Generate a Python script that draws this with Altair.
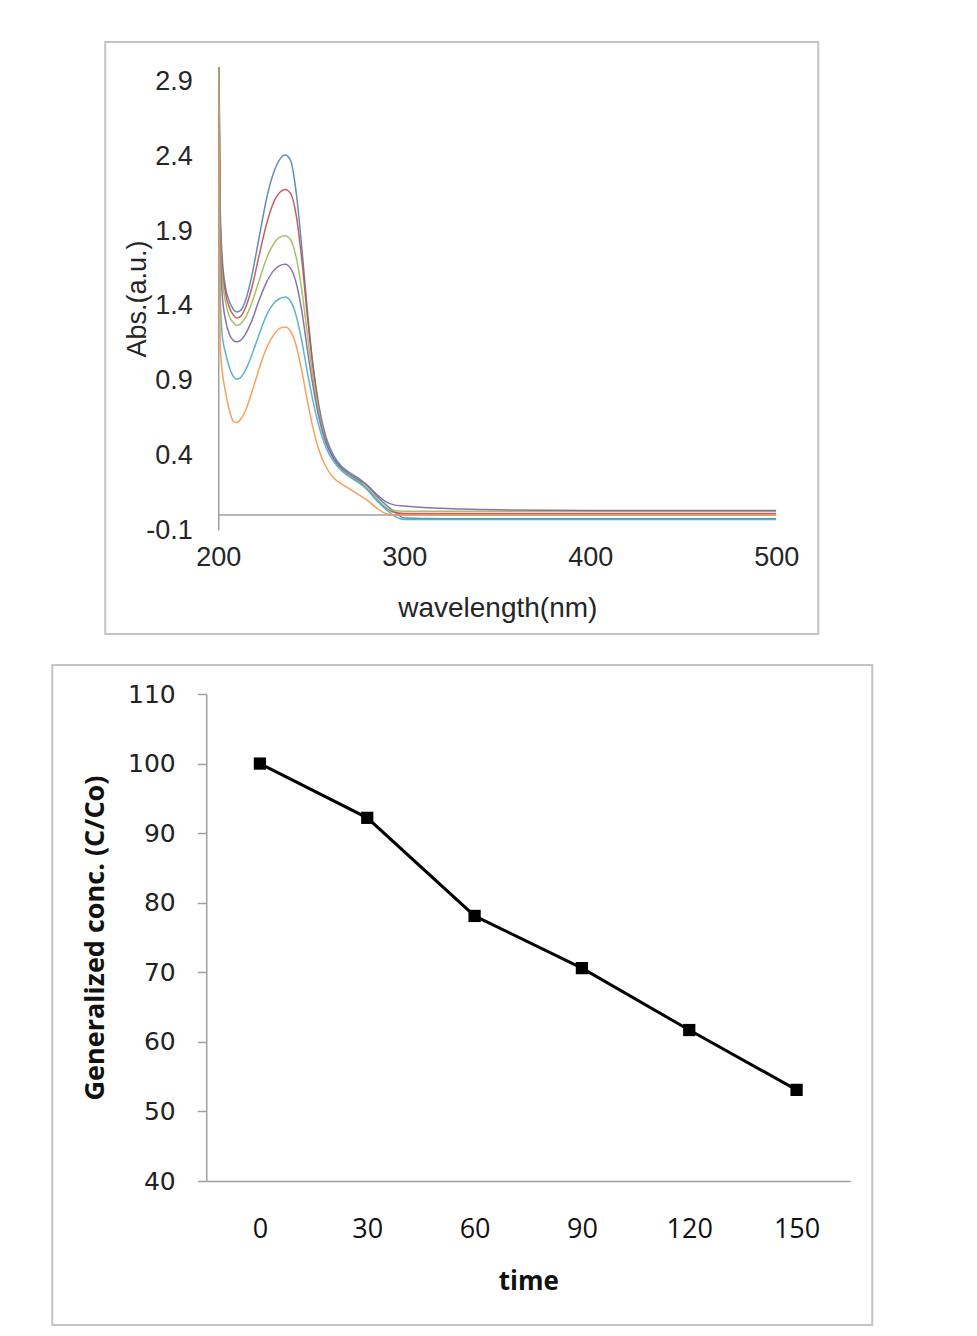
import altair as alt
import pandas as pd

# ---------------- data: UV-vis spectra ----------------
wavelength = [200, 201, 202, 204, 206, 208, 210, 212, 215, 218, 222, 226, 230, 233,
              236, 239, 242, 245, 248, 251, 254, 258, 262, 266, 270, 275, 280, 285,
              290, 294, 300, 320, 350, 400, 450, 500]

abs_s1 = [3.6, 2.1, 1.75, 1.52, 1.43, 1.38, 1.36, 1.37, 1.45, 1.60, 1.86, 2.12, 2.30, 2.38,
          2.41, 2.37, 2.15, 1.78, 1.36, 1.00, 0.74, 0.52, 0.40, 0.33, 0.29, 0.25, 0.20, 0.13,
          0.07, 0.03, -0.02, -0.025, -0.025, -0.025, -0.025, -0.025]
abs_s2 = [3.6, 2.0, 1.70, 1.48, 1.39, 1.34, 1.32, 1.33, 1.40, 1.52, 1.74, 1.95, 2.10, 2.16,
          2.18, 2.15, 2.00, 1.70, 1.32, 0.98, 0.72, 0.50, 0.38, 0.31, 0.27, 0.23, 0.18, 0.11,
          0.05, 0.02, 0.01, 0.01, 0.01, 0.01, 0.01, 0.01]
abs_s3 = [3.6, 1.95, 1.62, 1.42, 1.33, 1.29, 1.27, 1.28, 1.33, 1.42, 1.57, 1.72, 1.82, 1.86,
          1.87, 1.84, 1.72, 1.50, 1.20, 0.92, 0.70, 0.49, 0.38, 0.31, 0.27, 0.23, 0.18, 0.11,
          0.05, 0.03, 0.025, 0.025, 0.025, 0.025, 0.025, 0.025]
abs_s4 = [3.6, 1.85, 1.50, 1.30, 1.21, 1.17, 1.16, 1.17, 1.22, 1.30, 1.44, 1.56, 1.64, 1.67,
          1.68, 1.65, 1.55, 1.36, 1.10, 0.86, 0.66, 0.48, 0.38, 0.32, 0.28, 0.24, 0.20, 0.14,
          0.09, 0.07, 0.06, 0.045, 0.035, 0.03, 0.03, 0.03]
abs_s5 = [3.6, 1.50, 1.22, 1.08, 0.99, 0.93, 0.91, 0.92, 0.98, 1.07, 1.21, 1.34, 1.42, 1.45,
          1.46, 1.43, 1.33, 1.16, 0.95, 0.76, 0.60, 0.45, 0.36, 0.30, 0.26, 0.22, 0.17, 0.10,
          0.04, 0.00, -0.03, -0.03, -0.03, -0.03, -0.03, -0.03]
abs_s6 = [3.6, 1.15, 0.98, 0.82, 0.70, 0.63, 0.62, 0.64, 0.71, 0.82, 0.98, 1.12, 1.21, 1.25,
          1.26, 1.23, 1.13, 0.96, 0.76, 0.58, 0.44, 0.32, 0.25, 0.21, 0.18, 0.14, 0.10, 0.05,
          0.01, 0.00, 0.00, 0.00, 0.00, 0.00, 0.00, 0.00]

series_names = ["s1", "s2", "s3", "s4", "s5", "s6"]
series_colors = ["#4F81BD", "#C0504D", "#9BBB59", "#8064A2", "#4BACC6", "#F79646"]
y_ticks_top = [-0.1, 0.4, 0.9, 1.4, 1.9, 2.4, 2.9]
x_ticks_top = [200, 300, 400, 500]

# ---------------- data: concentration vs time ----------------
time_labels = ["0", "30", "60", "90", "120", "150"]
conc_values = [100, 92.2, 78.1, 70.6, 61.7, 53.1]
y_ticks_bot = [40, 50, 60, 70, 80, 90, 100, 110]

# ---------------- build tables ----------------
rows = []
for name, vals in zip(series_names, [abs_s1, abs_s2, abs_s3, abs_s4, abs_s5, abs_s6]):
    for w, v in zip(wavelength, vals):
        rows.append({"series": name, "wavelength": w, "abs": v})
spec_df = pd.DataFrame(rows)
conc_df = pd.DataFrame({"time": time_labels, "conc": conc_values})
one_df = pd.DataFrame({"k": [0]})

FRAME = "#c4c4c4"
AXIS = "#a0a0a0"

# ---------------- top chart ----------------
TW, TH = 558, 463
top_frame = alt.Chart(one_df).mark_rect(fillOpacity=0, stroke=FRAME, strokeWidth=2).encode(
    x=alt.value(-113), x2=alt.value(TW + 42), y=alt.value(-25), y2=alt.value(TH + 104)
)
# white spacer (invisible on white background) used to shift the centred panel
top_spacer = alt.Chart(one_df).mark_rect(fill="white").encode(
    x=alt.value(TW + 46), x2=alt.value(TW + 85), y=alt.value(0), y2=alt.value(1)
)
zero_rule = alt.Chart(one_df).mark_rule(color=AXIS, strokeWidth=1.5).encode(y=alt.datum(0))
top_lines = alt.Chart(spec_df).mark_line(clip=True, strokeWidth=1.5, interpolate="monotone", opacity=0.9).encode(
    x=alt.X("wavelength:Q",
            scale=alt.Scale(domain=[200, 500], nice=False, zero=False),
            axis=alt.Axis(values=x_ticks_top, title="wavelength(nm)", grid=False, domain=False,
                          ticks=False, labelFlush=False, labelOverlap=False, labelPadding=14,
                          labelFont="Liberation Sans", labelFontSize=27, labelColor="#262626",
                          titleFont="Liberation Sans", titleFontSize=28, titleFontWeight="normal",
                          titleColor="#262626", titlePadding=24)),
    y=alt.Y("abs:Q",
            scale=alt.Scale(domain=[-0.1, 3.0], nice=False, zero=False),
            axis=alt.Axis(values=y_ticks_top, title="Abs.(a.u.)", grid=False, ticks=False,
                          domainColor=AXIS, domainWidth=1.5, labelFlush=False, labelOverlap=False,
                          labelExpr="datum.value < 0 ? '-' + format(-datum.value, '.1f') : format(datum.value, '.1f')",
                          labelPadding=26, labelFont="Liberation Sans", labelFontSize=27,
                          labelColor="#262626", titleFont="Liberation Sans", titleFontSize=27,
                          titleFontWeight="normal", titleColor="#262626",
                          titleX=-81, titleY=TH / 2, titleBaseline="middle")),
    color=alt.Color("series:N", scale=alt.Scale(domain=series_names, range=series_colors), legend=None),
)
top = alt.layer(top_frame, top_spacer, zero_rule, top_lines).properties(width=TW, height=TH)

# ---------------- bottom chart ----------------
BW, BH = 644, 487
bot_frame = alt.Chart(one_df).mark_rect(fillOpacity=0, stroke=FRAME, strokeWidth=2).encode(
    x=alt.value(-154), x2=alt.value(BW + 22), y=alt.value(-29), y2=alt.value(BH + 144)
)
bx = alt.X("time:O", sort=time_labels, scale=alt.Scale(type="point", padding=0.5),
           axis=alt.Axis(title="time", labelAngle=0, ticks=False, domainColor=AXIS, domainWidth=1.5,
                         labelPadding=35, labelFont="Open Sans", labelFontSize=27, labelColor="#111111",
                         titleFont="Open Sans", titleFontSize=26, titleFontWeight="bold",
                         titleColor="#111111", titlePadding=26))
by = alt.Y("conc:Q", scale=alt.Scale(domain=[40, 110], nice=False, zero=False),
           axis=alt.Axis(values=y_ticks_bot, title="Generalized conc. (C/Co)", grid=False,
                         tickSize=9, tickColor=AXIS, tickWidth=1.5, domainColor=AXIS, domainWidth=1.5,
                         labelPadding=22, labelFont="DejaVu Sans", labelFontSize=25,
                         labelColor="#222222", labelFlush=False, labelOverlap=False,
                         titleFont="Open Sans", titleFontSize=27, titleFontWeight="bold",
                         titleColor="#111111", titleX=-111, titleY=BH / 2, titleBaseline="middle"))
bot_line = alt.Chart(conc_df).mark_line(color="black", strokeWidth=3).encode(x=bx, y=by)
bot_pts = alt.Chart(conc_df).mark_point(shape="square", filled=True, size=150, color="black", opacity=1).encode(x=bx, y=by)
bottom = alt.layer(bot_frame, bot_line, bot_pts).properties(width=BW, height=BH)

chart = alt.vconcat(top, bottom, spacing=27, center=True).properties(
    padding={"left": 50, "top": 40, "right": 5, "bottom": 5},
    background="white",
).configure_view(stroke="transparent")

chart.save("out.html", embed_options={"renderer": "svg", "actions": False})
